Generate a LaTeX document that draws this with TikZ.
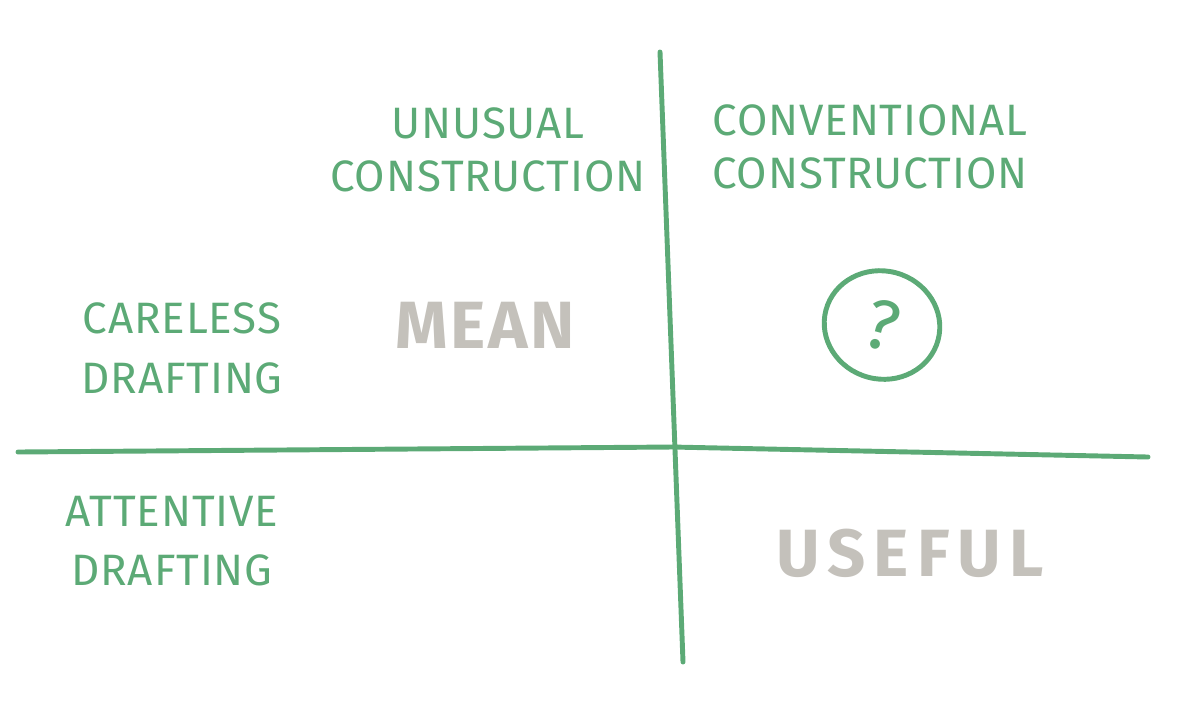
\documentclass[tikz,border=0pt]{standalone}
\usepackage{fontspec}
\setmainfont{Fira Sans}
\usepackage{tikz}
\usetikzlibrary{positioning,shapes.geometric}
\definecolor{penGreen}{RGB}{92,170,118}
\definecolor{penGrey}{RGB}{196,193,187}
\tikzset{
  hand/.style={font=\fontsize{12.5}{16}\selectfont\addfontfeature{LetterSpace=2},text=penGreen,align=center,inner sep=0pt},
  faint/.style={font=\fontsize{19}{22}\selectfont\bfseries\addfontfeature{LetterSpace=4},text=penGrey,inner sep=0pt},
  stroke/.style={draw=penGreen,line width=1.4pt,line cap=round}
}
\begin{document}
\begin{tikzpicture}[x=0.01cm,y=-0.01cm]
\useasboundingbox (0,0) rectangle (1200,702);
% axes
\coordinate (vtop) at (660,52);
\coordinate (vbot) at (683,662);
\coordinate (hleft) at (18,452);
\coordinate (hmid) at (672,447);
\coordinate (hright) at (1148,457);
\draw[stroke] (vtop) -- (vbot);
\draw[stroke] (hleft) -- (hmid) -- (hright);
% column heads
\node[hand] (unusual) at (488,150) {UNUSUAL\\[-1pt]CONSTRUCTION};
\node[hand] (conventional) at (870,147) {CONVENTIONAL\\[-1pt]CONSTRUCTION};
% row heads
\node[hand] (careless) at (182,348) {CARELESS\\[1pt]DRAFTING};
\node[hand] (attentive) at (172,541) {ATTENTIVE\\[1pt]DRAFTING};
% cells
\node[faint] (mean) at (485,325) {MEAN};
\node[faint,font=\fontsize{19}{22}\selectfont\bfseries\addfontfeature{LetterSpace=12}] (useful) at (910,553) {USEFUL};
\node[stroke,ellipse,rotate=-15,minimum width=1.16cm,minimum height=1.08cm,inner sep=0pt,text=penGreen,font=\fontsize{20}{22}\selectfont] (unknown) at (882,325) {?};
\end{tikzpicture}
\end{document}
